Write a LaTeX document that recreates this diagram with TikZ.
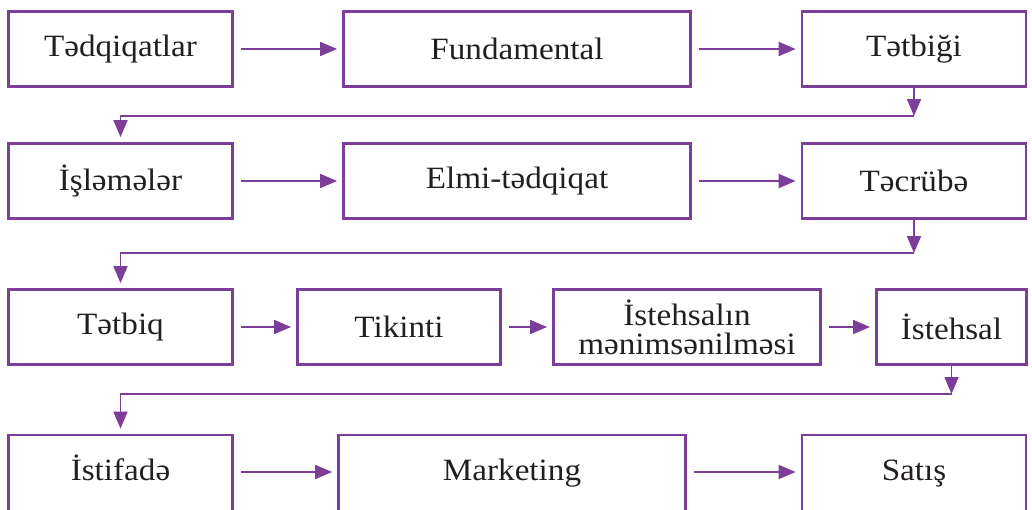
\documentclass[tikz,border=0pt]{standalone}
\usepackage{fontspec}
\setmainfont{Liberation Serif}[FakeStretch=1.07]
\usetikzlibrary{arrows.meta}
\definecolor{purp}{RGB}{125,62,153}
\definecolor{ink}{RGB}{35,31,32}
\begin{document}
\begin{tikzpicture}[x=1pt,y=-1pt,
  box/.style={draw=purp,line width=2.8pt,minimum height=75pt,inner sep=0pt,
    text=ink,font=\fontsize{31}{29}\selectfont,align=center},
  wbox/.style={box,minimum width=224pt},
  cutbox/.style={minimum height=90pt,text height=22pt,text depth=22pt},
  conn/.style={draw=purp,line width=1.8pt,-{Triangle[length=17pt,width=14pt]}},
  harrow/.style={conn,shorten <=7pt,shorten >=5pt},
  varrow/.style={conn,shorten >=5pt}]
\useasboundingbox (0,0) rectangle (1032,509);
% row 1
\node[wbox] (A) at (120.5,49) {Tədqiqatlar};
\node[box,minimum width=347pt] (B) at (517,49) {Fundamental};
\node[wbox] (C) at (914,49) {Tətbiği};
% row 2
\node[wbox] (D) at (120.5,181) {İşləmələr};
\node[box,minimum width=347pt] (E) at (517,181) {Elmi-tədqiqat};
\node[wbox] (F) at (914,181) {Təcrübə};
% row 3
\node[wbox] (G) at (120.5,327) {Tətbiq};
\node[box,minimum width=203pt] (H) at (399,327) {Tikinti};
\node[box,minimum width=267pt] (I) at (687,327) {İstehsalın\\mənimsənilməsi};
\node[box,minimum width=150pt] (J) at (951.5,327) {İstehsal};
% row 4 (cut by the lower edge)
\node[wbox,cutbox] (K) at (120.5,480) {İstifadə};
\node[box,cutbox,minimum width=347pt] (L) at (512,480) {Marketing};
\node[wbox,cutbox] (M) at (914,480) {Satış};
% turn points
\coordinate (c1) at (914,116);
\coordinate (c2) at (914,253);
\coordinate (c3) at (951.5,394);
% horizontal arrows
\draw[harrow] (A.east) -- (B.west);
\draw[harrow] (B.east) -- (C.west);
\draw[harrow] (D.east) -- (E.west);
\draw[harrow] (E.east) -- (F.west);
\draw[harrow] (G.east) -- (H.west);
\draw[harrow] (H.east) -- (I.west);
\draw[harrow] (I.east) -- (J.west);
\draw[harrow] ([yshift=8pt]K.east) -- ([yshift=8pt]L.west);
\draw[harrow] ([yshift=8pt]L.east) -- ([yshift=8pt]M.west);
% row changes
\draw[conn] (C.south) -- (c1);
\draw[varrow] (c1) -| (D.north);
\draw[conn] (F.south) -- (c2);
\draw[varrow] (c2) -| (G.north);
\draw[conn] (J.south) -- (c3);
\draw[varrow] (c3) -| (K.north);
\end{tikzpicture}
\end{document}
